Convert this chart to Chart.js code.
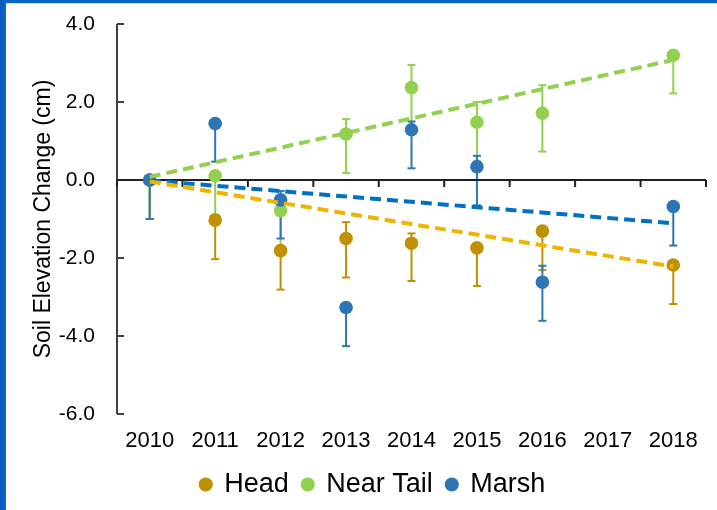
<!DOCTYPE html>
<html><head><meta charset="utf-8">
<script src="https://cdn.jsdelivr.net/npm/chart.js@4/dist/chart.umd.min.js"></script>
<style>
html,body{margin:0;padding:0;background:#fff;overflow:hidden}
#wrap{position:relative;width:717px;height:510px;background:#fff}
#c{position:absolute;left:0;top:0}
.bl{position:absolute;left:0;top:0;width:6px;height:510px;background:linear-gradient(to right,#0a58bc,#0d66cc)}
.bt{position:absolute;left:0;top:0;width:717px;height:3px;background:#0a64c8}
.bt2{position:absolute;left:0;top:3px;width:717px;height:1px;background:#e2e2e2}
</style></head><body>
<div id="wrap"><canvas id="c" width="717" height="510"></canvas><div class="bt2"></div><div class="bt"></div><div class="bl"></div></div>
<script>
// Categories and tick labels
const years = ['2010','2011','2012','2013','2014','2015','2016','2017','2018'];
const yTicks = [-6, -4, -2, 0, 2, 4];

// Series values (cm)
const head     = [0, -1.03, -1.81, -1.50, -1.62, -1.74, -1.31, null, -2.18];
const nearTail = [0,  0.11, -0.79,  1.18,  2.37,  1.48,  1.71, null,  3.20];
const marsh    = [0,  1.45, -0.51, -3.27,  1.29,  0.34, -2.62, null, -0.68];

// Error bar extents (minus / plus)
const headMinus     = [1.00, 1.00, 1.00, 1.00, 0.97, 0.98, 1.00, null, 1.00];
const headPlus      = [0,    0,    0,    0.42, 0.25, 0,    0,    null, 0];
const nearTailMinus = [1.00, 1.00, 1.00, 1.00, 1.00, 1.00, 0.98, null, 0.98];
const nearTailPlus  = [0,    0,    0,    0.38, 0.58, 0.52, 0.72, null, 0];
const marshMinus    = [1.00, 0.98, 0.99, 0.99, 0.99, 0.99, 0.99, null, 1.00];
const marshPlus     = [0,    0,    0.23, 0,    0.21, 0.28, 0.42, null, 0];

// Linear trend lines (values read at 2010 and 2018)
const headTrend     = [-0.04, null, null, null, null, null, null, null, -2.22];
const nearTailTrend = [ 0.08, null, null, null, null, null, null, null,  3.08];
const marshTrend    = [-0.01, null, null, null, null, null, null, null, -1.11];

const FONT = 'Liberation Sans, Arial, sans-serif';
const C_HEAD = '#BF9000', C_NT = '#92D050', C_MARSH = '#2E75B6';
const T_HEAD = '#EFB300', T_NT = '#92D050', T_MARSH = '#0070C0';

function pts(label, data, color, order, minus, plus) {
  return { label, data, showLine: false, pointRadius: 6.8, pointHoverRadius: 6.8,
    pointBackgroundColor: color, pointBorderColor: color, pointBorderWidth: 0,
    backgroundColor: color, borderColor: color, order, errMinus: minus, errPlus: plus };
}
function trend(label, data, color) {
  return { label, data, spanGaps: true, borderColor: color, borderWidth: 4,
    borderDash: [11, 6], pointRadius: 0, pointHoverRadius: 0, fill: false, order: 0, isTrend: true };
}

const errorBars = {
  id: 'errorBars',
  beforeDatasetsDraw(chart) {
    const ctx = chart.ctx, y = chart.scales.y;
    chart.data.datasets.forEach((ds, di) => {
      if (ds.isTrend) return;
      const meta = chart.getDatasetMeta(di);
      ctx.save();
      ctx.strokeStyle = ds.borderColor; ctx.lineWidth = 2;
      meta.data.forEach((pt, i) => {
        const v = ds.data[i];
        if (v === null) return;
        const x = pt.x;
        const yLo = y.getPixelForValue(v - ds.errMinus[i]);
        const yHi = y.getPixelForValue(v + ds.errPlus[i]);
        ctx.beginPath(); ctx.moveTo(x, yHi); ctx.lineTo(x, yLo); ctx.stroke();
        ctx.beginPath(); ctx.moveTo(x - 4, yLo); ctx.lineTo(x + 4, yLo); ctx.stroke();
        if (ds.errPlus[i] > 0) { ctx.beginPath(); ctx.moveTo(x - 4, yHi); ctx.lineTo(x + 4, yHi); ctx.stroke(); }
      });
      ctx.restore();
    });
  }
};

const axes = {
  id: 'axes',
  beforeDatasetsDraw(chart) {
    const ctx = chart.ctx, xs = chart.scales.x, ys = chart.scales.y, a = chart.chartArea;
    ctx.save();
    ctx.strokeStyle = '#404040'; ctx.lineWidth = 2;
    ctx.beginPath(); ctx.moveTo(a.left, a.top); ctx.lineTo(a.left, a.bottom); ctx.stroke();
    ys.ticks.forEach(t => {
      const py = ys.getPixelForValue(t.value);
      ctx.beginPath(); ctx.moveTo(a.left, py); ctx.lineTo(a.left + 7, py); ctx.stroke();
    });
    ctx.strokeStyle = '#202020'; ctx.lineWidth = 2;
    const y0 = ys.getPixelForValue(0);
    ctx.beginPath(); ctx.moveTo(a.left, y0); ctx.lineTo(a.right, y0); ctx.stroke();
    for (let i = 0; i <= years.length; i++) {
      const px = xs.getPixelForValue(i - 0.5);
      ctx.beginPath(); ctx.moveTo(px, y0); ctx.lineTo(px, y0 + 7); ctx.stroke();
    }
    ctx.restore();
  }
};

new Chart(document.getElementById('c'), {
  type: 'line',
  data: {
    labels: years,
    datasets: [
      pts('Head', head, C_HEAD, 3, headMinus, headPlus),
      pts('Near Tail', nearTail, C_NT, 2, nearTailMinus, nearTailPlus),
      pts('Marsh', marsh, C_MARSH, 1, marshMinus, marshPlus),
      trend('Head trend', headTrend, T_HEAD),
      trend('Near Tail trend', nearTailTrend, T_NT),
      trend('Marsh trend', marshTrend, T_MARSH)
    ]
  },
  options: {
    responsive: false, animation: false,
    layout: { padding: { left: 40, right: 11, top: 24, bottom: 2 } },
    plugins: {
      tooltip: { enabled: false },
      legend: {
        position: 'bottom',
        labels: {
          usePointStyle: true, pointStyle: 'circle', boxWidth: 10, boxHeight: 10,
          color: '#000', font: { family: FONT, size: 27 }, padding: 14,
          filter: (item) => item.datasetIndex < 3,
          sort: (a, b) => a.datasetIndex - b.datasetIndex
        }
      }
    },
    scales: {
      x: {
        offset: true,
        grid: { display: false, drawTicks: false },
        border: { display: false },
        ticks: { color: '#000', font: { family: FONT, size: 22 }, padding: 14, maxRotation: 0 },
        afterFit: (s) => { s.height = 43; }
      },
      y: {
        min: -6, max: 4,
        afterBuildTicks: (s) => { s.ticks = yTicks.map(v => ({ value: v })); },
        grid: { display: false, drawTicks: true, tickLength: 22 },
        border: { display: false },
        ticks: { color: '#000', font: { family: FONT, size: 21 }, padding: 0,
          callback: (v) => Number(v).toFixed(1) },
        title: { display: true, text: 'Soil Elevation Change (cm)', color: '#000',
          font: { family: FONT, size: 23, lineHeight: 1.2 }, padding: { top: -10, bottom: 0 } },
        afterFit: (s) => { s.width = 77; }
      }
    }
  },
  plugins: [errorBars, axes]
});
</script>
</body></html>
